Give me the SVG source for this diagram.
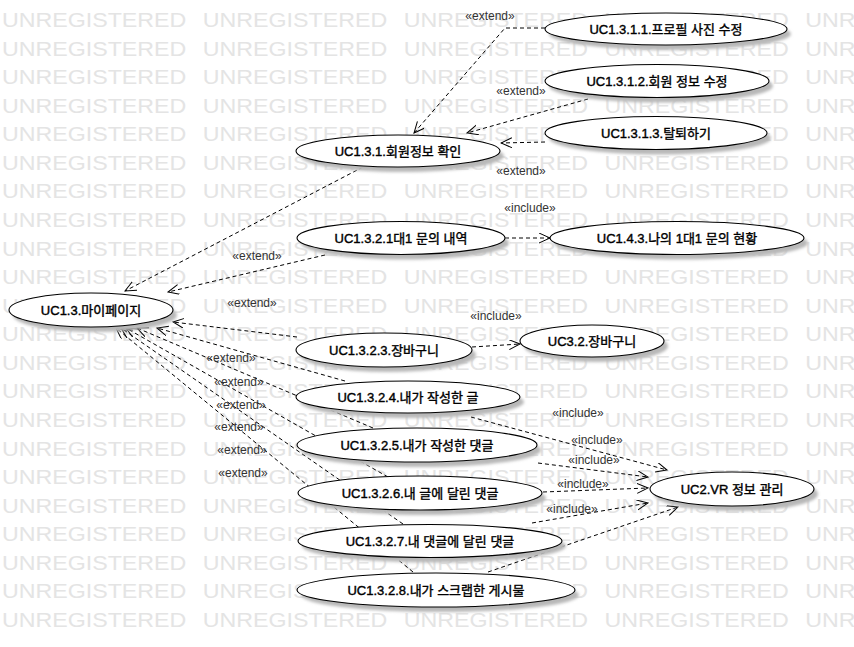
<svg xmlns="http://www.w3.org/2000/svg" width="854" height="647" viewBox="0 0 854 647">
<defs>
<style>
.wm{font-family:"Liberation Sans",Arial,sans-serif;font-size:19.5px;fill:#e4e4e4;word-spacing:8.5px}
.uc{fill:#fff;stroke:#000;stroke-width:1.1}
.sh{fill:#b8b8b8;filter:url(#blur)}
.t{font-family:"Liberation Sans","Noto Sans CJK KR",sans-serif;font-size:13px;fill:#000;stroke:#000;stroke-width:0.4;text-anchor:middle}
.lb{font-family:"Liberation Sans","Noto Sans CJK KR",sans-serif;font-size:12px;fill:#333;text-anchor:middle}
.c{fill:none;stroke:#000;stroke-width:1;stroke-dasharray:4,3;marker-end:url(#open)}
</style>
<filter id="blur" x="-10%" y="-30%" width="120%" height="160%"><feGaussianBlur stdDeviation="1.5"/></filter>
<marker id="open" viewBox="0 0 12 11" refX="11" refY="5" markerWidth="12" markerHeight="11" markerUnits="userSpaceOnUse" orient="auto">
<path d="M0,0 L11,5 L0,10" fill="none" stroke="#000" stroke-width="1" stroke-dasharray="none"/>
</marker>
</defs>
<rect x="0" y="0" width="854" height="647" fill="#fff"/>
<g id="watermark" transform="scale(1.19,1)">
<text class="wm" x="1.7" y="27">UNREGISTERED UNREGISTERED UNREGISTERED UNREGISTERED UNREGISTERED</text>
<text class="wm" x="1.7" y="55.6">UNREGISTERED UNREGISTERED UNREGISTERED UNREGISTERED UNREGISTERED</text>
<text class="wm" x="1.7" y="84.1">UNREGISTERED UNREGISTERED UNREGISTERED UNREGISTERED UNREGISTERED</text>
<text class="wm" x="1.7" y="112.7">UNREGISTERED UNREGISTERED UNREGISTERED UNREGISTERED UNREGISTERED</text>
<text class="wm" x="1.7" y="141.3">UNREGISTERED UNREGISTERED UNREGISTERED UNREGISTERED UNREGISTERED</text>
<text class="wm" x="1.7" y="169.9">UNREGISTERED UNREGISTERED UNREGISTERED UNREGISTERED UNREGISTERED</text>
<text class="wm" x="1.7" y="198.4">UNREGISTERED UNREGISTERED UNREGISTERED UNREGISTERED UNREGISTERED</text>
<text class="wm" x="1.7" y="227">UNREGISTERED UNREGISTERED UNREGISTERED UNREGISTERED UNREGISTERED</text>
<text class="wm" x="1.7" y="255.6">UNREGISTERED UNREGISTERED UNREGISTERED UNREGISTERED UNREGISTERED</text>
<text class="wm" x="1.7" y="284.1">UNREGISTERED UNREGISTERED UNREGISTERED UNREGISTERED UNREGISTERED</text>
<text class="wm" x="1.7" y="312.7">UNREGISTERED UNREGISTERED UNREGISTERED UNREGISTERED UNREGISTERED</text>
<text class="wm" x="1.7" y="341.3">UNREGISTERED UNREGISTERED UNREGISTERED UNREGISTERED UNREGISTERED</text>
<text class="wm" x="1.7" y="369.9">UNREGISTERED UNREGISTERED UNREGISTERED UNREGISTERED UNREGISTERED</text>
<text class="wm" x="1.7" y="398.4">UNREGISTERED UNREGISTERED UNREGISTERED UNREGISTERED UNREGISTERED</text>
<text class="wm" x="1.7" y="427">UNREGISTERED UNREGISTERED UNREGISTERED UNREGISTERED UNREGISTERED</text>
<text class="wm" x="1.7" y="455.6">UNREGISTERED UNREGISTERED UNREGISTERED UNREGISTERED UNREGISTERED</text>
<text class="wm" x="1.7" y="484.1">UNREGISTERED UNREGISTERED UNREGISTERED UNREGISTERED UNREGISTERED</text>
<text class="wm" x="1.7" y="512.7">UNREGISTERED UNREGISTERED UNREGISTERED UNREGISTERED UNREGISTERED</text>
<text class="wm" x="1.7" y="541.3">UNREGISTERED UNREGISTERED UNREGISTERED UNREGISTERED UNREGISTERED</text>
<text class="wm" x="1.7" y="569.9">UNREGISTERED UNREGISTERED UNREGISTERED UNREGISTERED UNREGISTERED</text>
<text class="wm" x="1.7" y="598.4">UNREGISTERED UNREGISTERED UNREGISTERED UNREGISTERED UNREGISTERED</text>
<text class="wm" x="1.7" y="627">UNREGISTERED UNREGISTERED UNREGISTERED UNREGISTERED UNREGISTERED</text>
</g>
<g id="connectors">
<polyline class="c" points="545,28 505,28 414,133"/>
<line class="c" x1="588" y1="99" x2="467" y2="133"/>
<line class="c" x1="545" y1="142" x2="501" y2="143"/>
<line class="c" x1="363" y1="167" x2="125" y2="291"/>
<line class="c" x1="325" y1="255" x2="168" y2="292"/>
<line class="c" x1="505" y1="238" x2="550" y2="238"/>
<line class="c" x1="297" y1="337" x2="173" y2="322"/>
<line class="c" x1="472" y1="347" x2="520" y2="344"/>
<line class="c" x1="345" y1="381" x2="157" y2="328"/>
<line class="c" x1="373" y1="428" x2="137" y2="328"/>
<line class="c" x1="388" y1="477" x2="126" y2="328"/>
<line class="c" x1="403" y1="524" x2="121" y2="328"/>
<line class="c" x1="413" y1="572" x2="116" y2="328"/>
<line class="c" x1="471" y1="417" x2="667" y2="470"/>
<line class="c" x1="538" y1="463" x2="648" y2="477"/>
<line class="c" x1="543" y1="492" x2="648" y2="488"/>
<line class="c" x1="532" y1="523" x2="648" y2="503"/>
<line class="c" x1="488" y1="572" x2="678" y2="507"/>
</g>
<g id="n1311"><ellipse class="sh" cx="670" cy="34" rx="121" ry="16"/><ellipse class="uc" cx="666" cy="29" rx="121" ry="16"/><text class="t" x="666" y="34">UC1.3.1.1.프로필 사진 수정</text></g>
<g id="n1312"><ellipse class="sh" cx="661" cy="86" rx="112" ry="16.5"/><ellipse class="uc" cx="657" cy="81" rx="112" ry="16.5"/><text class="t" x="657" y="86">UC1.3.1.2.회원 정보 수정</text></g>
<g id="n1313"><ellipse class="sh" cx="660" cy="138" rx="111" ry="16.5"/><ellipse class="uc" cx="656" cy="133" rx="111" ry="16.5"/><text class="t" x="656" y="138">UC1.3.1.3.탈퇴하기</text></g>
<g id="n131"><ellipse class="sh" cx="402" cy="156" rx="102" ry="16"/><ellipse class="uc" cx="398" cy="151" rx="102" ry="16"/><text class="t" x="398" y="156">UC1.3.1.회원정보 확인</text></g>
<g id="n1321"><ellipse class="sh" cx="405" cy="243" rx="104" ry="16.5"/><ellipse class="uc" cx="401" cy="238" rx="104" ry="16.5"/><text class="t" x="401" y="243">UC1.3.2.1대1 문의 내역</text></g>
<g id="n143"><ellipse class="sh" cx="681" cy="243" rx="127" ry="16.5"/><ellipse class="uc" cx="677" cy="238" rx="127" ry="16.5"/><text class="t" x="677" y="243">UC1.4.3.나의 1대1 문의 현황</text></g>
<g id="n13"><ellipse class="sh" cx="95" cy="315" rx="82" ry="17"/><ellipse class="uc" cx="91" cy="310" rx="82" ry="17"/><text class="t" x="91" y="315">UC1.3.마이페이지</text></g>
<g id="n1323"><ellipse class="sh" cx="388" cy="355" rx="88" ry="17"/><ellipse class="uc" cx="384" cy="350" rx="88" ry="17"/><text class="t" x="384" y="355">UC1.3.2.3.장바구니</text></g>
<g id="n32"><ellipse class="sh" cx="596" cy="346" rx="72" ry="16"/><ellipse class="uc" cx="592" cy="341" rx="72" ry="16"/><text class="t" x="592" y="346">UC3.2.장바구니</text></g>
<g id="n1324"><ellipse class="sh" cx="412" cy="402" rx="112" ry="16"/><ellipse class="uc" cx="408" cy="397" rx="112" ry="16"/><text class="t" x="408" y="402">UC1.3.2.4.내가 작성한 글</text></g>
<g id="n1325"><ellipse class="sh" cx="421" cy="450" rx="120" ry="17"/><ellipse class="uc" cx="417" cy="445" rx="120" ry="17"/><text class="t" x="417" y="450">UC1.3.2.5.내가 작성한 댓글</text></g>
<g id="n1326"><ellipse class="sh" cx="424" cy="498" rx="122" ry="17"/><ellipse class="uc" cx="420" cy="493" rx="122" ry="17"/><text class="t" x="420" y="498">UC1.3.2.6.내 글에 달린 댓글</text></g>
<g id="n1327"><ellipse class="sh" cx="434" cy="546" rx="132" ry="16.5"/><ellipse class="uc" cx="430" cy="541" rx="132" ry="16.5"/><text class="t" x="430" y="546">UC1.3.2.7.내 댓글에 달린 댓글</text></g>
<g id="n1328"><ellipse class="sh" cx="440" cy="595" rx="139" ry="17"/><ellipse class="uc" cx="436" cy="590" rx="139" ry="17"/><text class="t" x="436" y="595">UC1.3.2.8.내가 스크랩한 게시물</text></g>
<g id="n2"><ellipse class="sh" cx="736" cy="494" rx="82" ry="17"/><ellipse class="uc" cx="732" cy="489" rx="82" ry="17"/><text class="t" x="732" y="494">UC2.VR 정보 관리</text></g>
<g id="labels">
<text class="lb" x="490" y="20">«extend»</text>
<text class="lb" x="521" y="95">«extend»</text>
<text class="lb" x="521" y="175">«extend»</text>
<text class="lb" x="530" y="212">«include»</text>
<text class="lb" x="257" y="260">«extend»</text>
<text class="lb" x="252" y="307">«extend»</text>
<text class="lb" x="496" y="320">«include»</text>
<text class="lb" x="231" y="362">«extend»</text>
<text class="lb" x="239" y="386">«extend»</text>
<text class="lb" x="241" y="409">«extend»</text>
<text class="lb" x="239" y="431">«extend»</text>
<text class="lb" x="242" y="454">«extend»</text>
<text class="lb" x="243" y="477">«extend»</text>
<text class="lb" x="578" y="417">«include»</text>
<text class="lb" x="597" y="444">«include»</text>
<text class="lb" x="594" y="464">«include»</text>
<text class="lb" x="583" y="488">«include»</text>
<text class="lb" x="572" y="513">«include»</text>
</g>
</svg>
